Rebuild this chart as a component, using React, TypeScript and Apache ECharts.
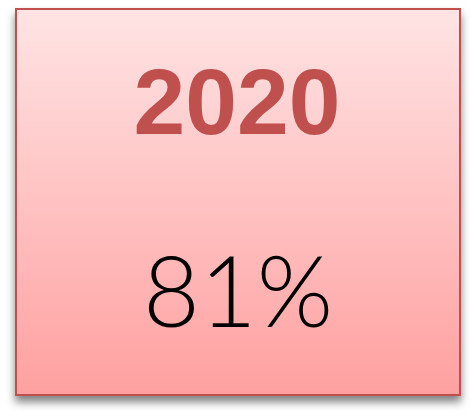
import React, { useEffect, useRef } from 'react';
import * as echarts from 'echarts';

const years = ['2020'];
const shares = [81];

const App: React.FC = () => {
  const chartRef = useRef<HTMLDivElement>(null);

  useEffect(() => {
    if (!chartRef.current) return;
    const chart = echarts.init(chartRef.current, undefined, { renderer: 'svg' });

    const option = {
      animation: false,
      graphic: [
        {
          type: 'rect',
          shape: { x: 16, y: 9, width: 444, height: 386 },
          style: {
            fill: new echarts.graphic.LinearGradient(0, 0, 0, 1, [
              { offset: 0, color: '#ffe4e4' },
              { offset: 1, color: '#ffa0a0' }
            ]),
            stroke: '#c0504d',
            lineWidth: 2,
            shadowBlur: 8,
            shadowOffsetX: 0,
            shadowOffsetY: 6,
            shadowColor: 'rgba(0,0,0,0.5)'
          }
        },
        {
          type: 'text',
          x: 237,
          y: 102,
          style: {
            text: years[0],
            font: 'bold 93px "Liberation Sans", Arial, sans-serif',
            fill: '#c0504d',
            align: 'center',
            verticalAlign: 'middle'
          }
        },
        {
          type: 'text',
          x: 238,
          y: 289,
          style: {
            text: shares[0] + '%',
            font: '300 98px Lato, "Liberation Sans", Arial, sans-serif',
            fill: '#000000',
            align: 'center',
            verticalAlign: 'middle'
          }
        }
      ]
    };

    chart.setOption(option);
    return () => chart.dispose();
  }, []);

  return (
    <div
      ref={chartRef}
      style={{ position: 'fixed', left: 0, top: 0, width: '476px', height: '418px' }}
    />
  );
};

export default App;
